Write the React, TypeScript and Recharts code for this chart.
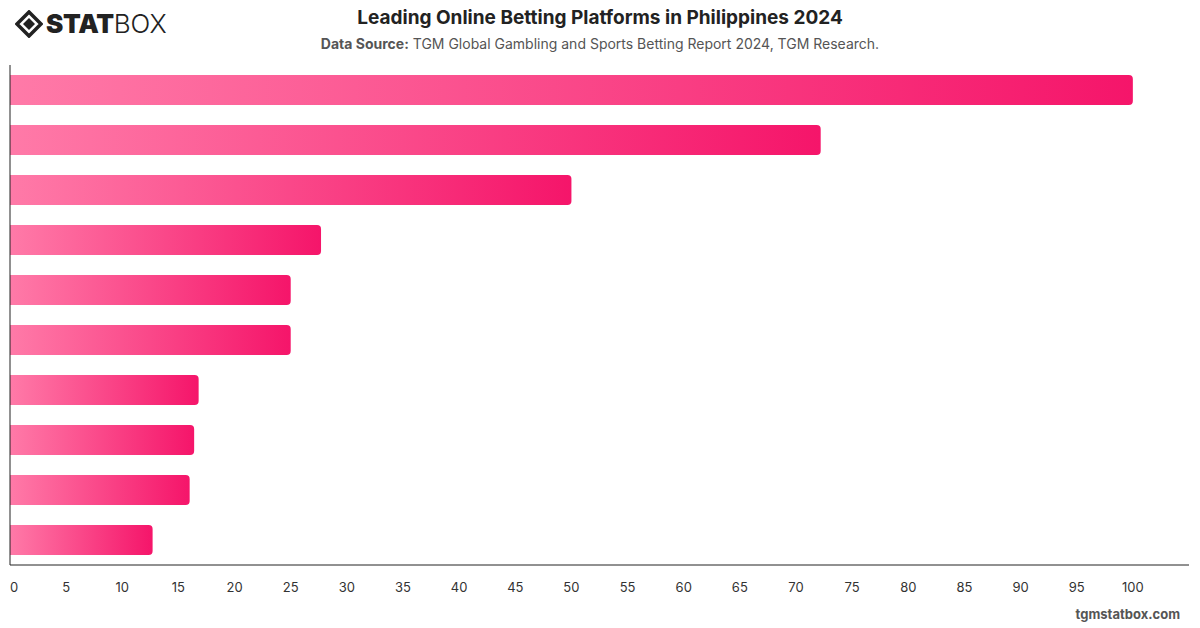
import React from 'react';
import { BarChart, Bar, XAxis, YAxis } from 'recharts';

// platform names are not shown on the chart, so plain placeholders
const platforms = ['P1', 'P2', 'P3', 'P4', 'P5', 'P6', 'P7', 'P8', 'P9', 'P10'];
const shares = [100, 72.2, 50, 27.7, 25, 25, 16.8, 16.4, 16.0, 12.7];
const xTicks = [0, 5, 10, 15, 20, 25, 30, 35, 40, 45, 50, 55, 60, 65, 70, 75, 80, 85, 90, 95, 100];

const data = platforms.map((name, i) => ({ name, value: shares[i] }));

const font = 'Inter, "Noto Sans", Roboto, sans-serif';

function Logo() {
  return (
    <div style={{ position: 'absolute', left: 15, top: 8, display: 'flex', alignItems: 'center' }}>
      <svg width="28" height="28" viewBox="0 0 28 28">
        <path d="M14 2 L26 14 L14 26 L2 14 Z" fill="none" stroke="#222" strokeWidth="3.5" />
        <path d="M14 8 L20 14 L14 20 L8 14 Z" fill="#222" />
      </svg>
      <span style={{ fontFamily: font, fontWeight: 900, fontSize: 26, color: '#222', marginLeft: 3, letterSpacing: -0.3 }}>
        STAT
      </span>
      <span style={{ fontFamily: font, fontWeight: 300, fontSize: 26, color: '#222' }}>BOX</span>
    </div>
  );
}

// first label sits a little right of the axis start, like the original
const XTick = (props: any) => {
  const { x, y, payload } = props;
  const shift = payload.value === 0 ? 4 : 0;
  return (
    <text x={x + shift} y={y} dy="0.71em" textAnchor="middle" fill="#333" fontSize={13}>
      {payload.value}
    </text>
  );
};

export default function App() {
  return (
    <div style={{ position: 'fixed', left: 0, top: 0, width: 1200, height: 628, background: '#fff', fontFamily: font }}>
      <Logo />
      <div style={{ position: 'absolute', top: 6, left: 0, width: 1200, textAlign: 'center', fontSize: 19, fontWeight: 700, color: '#222' }}>
        Leading Online Betting Platforms in Philippines 2024
      </div>
      <div style={{ position: 'absolute', top: 35, left: 0, width: 1200, textAlign: 'center', fontSize: 14, color: '#555' }}>
        <b>Data Source:</b> TGM Global Gambling and Sports Betting Report 2024, TGM Research.
      </div>
      <div style={{ position: 'absolute', right: 20, top: 606, fontSize: 13, fontWeight: 700, color: '#555' }}>
        tgmstatbox.com
      </div>
      <BarChart
        width={1200}
        height={628}
        data={data}
        layout="vertical"
        margin={{ top: 65, right: 11, left: 9, bottom: 33 }}
        barSize={30}
      >
        <defs>
          <linearGradient id="barGrad" x1="0" y1="0" x2="1" y2="0">
            <stop offset="0%" stopColor="#ff7aa8" />
            <stop offset="100%" stopColor="#f5156a" />
          </linearGradient>
        </defs>
        <XAxis
          type="number"
          domain={[0, 105]}
          ticks={xTicks}
          interval={0}
          height={30}
          tickLine={false}
          tickMargin={12}
          axisLine={{ stroke: '#222' }}
          tick={<XTick />}
        />
        <YAxis type="category" dataKey="name" width={1} tick={false} tickLine={false} axisLine={{ stroke: '#222' }} />
        <Bar dataKey="value" fill="url(#barGrad)" radius={[0, 4, 4, 0]} isAnimationActive={false} />
      </BarChart>
    </div>
  );
}
